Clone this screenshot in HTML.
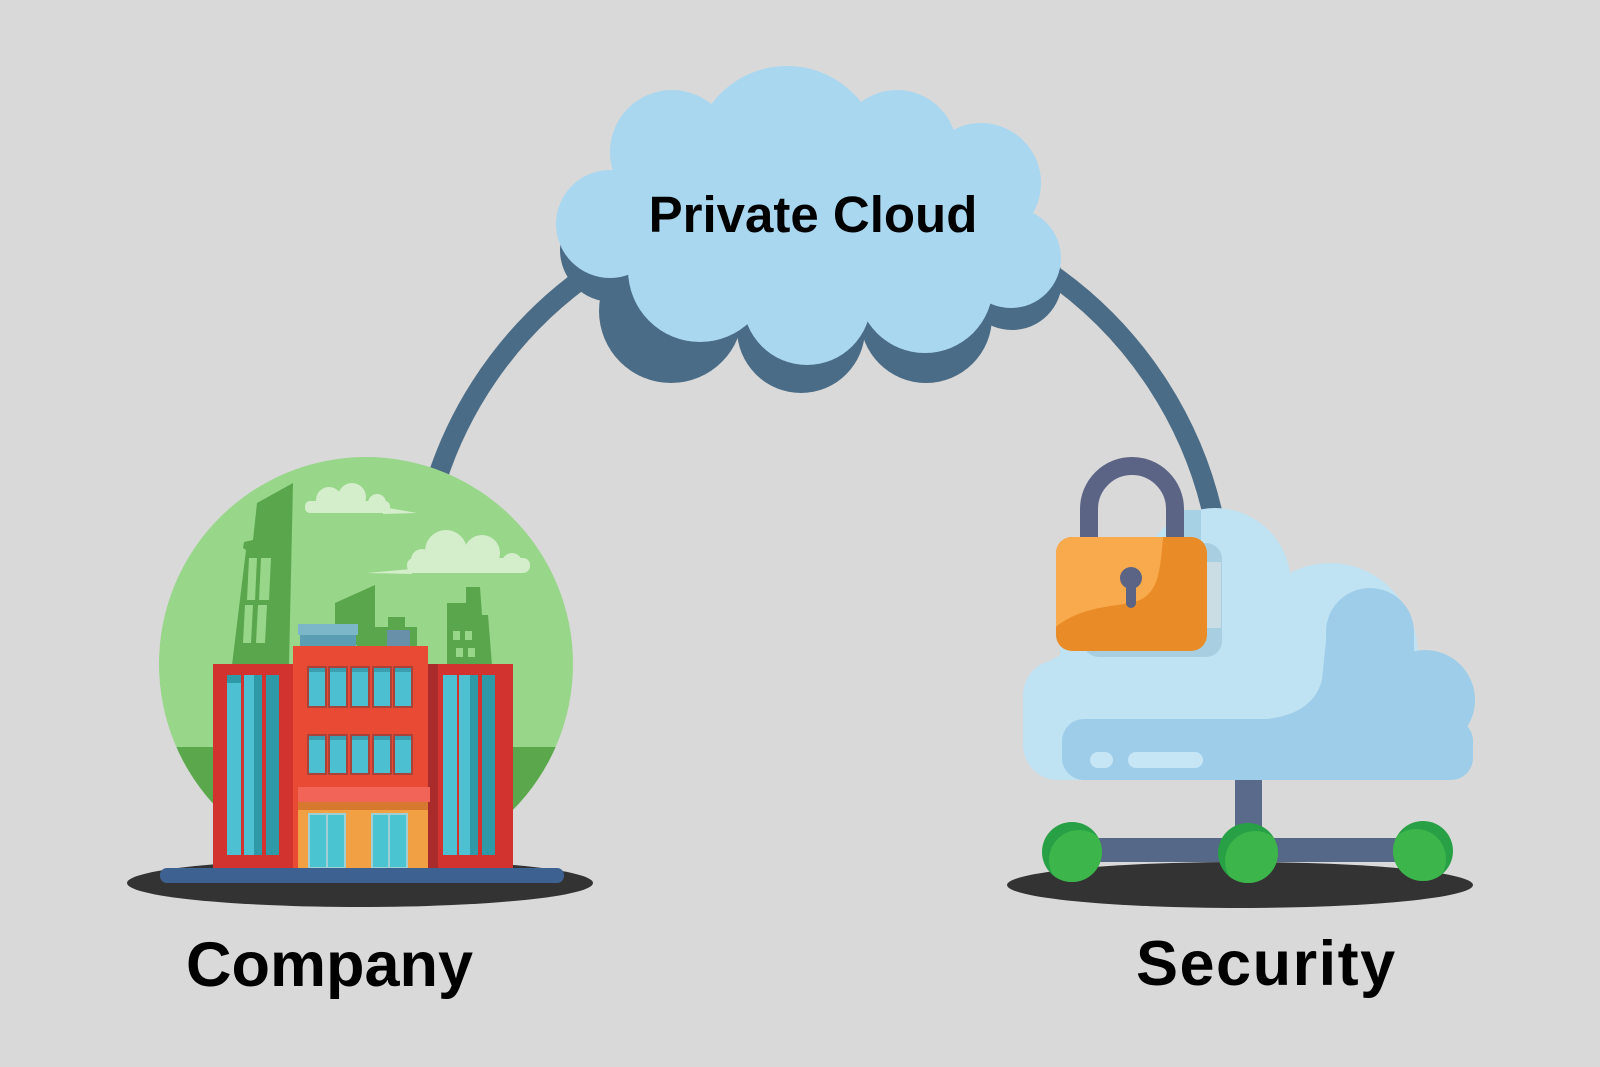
<!DOCTYPE html>
<html><head><meta charset="utf-8">
<style>
html,body{margin:0;padding:0;background:#d9d9d9;}
svg{display:block;}
text{font-family:"Liberation Sans",Arial,sans-serif;font-weight:bold;fill:#000;}
</style></head><body>
<svg width="1600" height="1067" viewBox="0 0 1600 1067" xmlns="http://www.w3.org/2000/svg">
<defs>
  <clipPath id="gc"><circle cx="366" cy="664" r="207"/></clipPath>
  <clipPath id="lockc"><rect x="1056" y="537" width="151" height="114" rx="16"/></clipPath>
  <clipPath id="nc">
    <circle cx="1072" cy="852" r="30"/>
    <circle cx="1248" cy="853" r="30"/>
    <circle cx="1423" cy="851" r="30"/>
  </clipPath>
</defs>
<rect width="1600" height="1067" fill="#d9d9d9"/>

<!-- connector arcs -->
<g fill="none" stroke="#4b6c86" stroke-width="20">
  <path d="M436.6,480 A403,403 0 0 1 594.5,270"/>
  <path d="M1045.5,270 A403,403 0 0 1 1216,530"/>
</g>

<!-- Private cloud shadow -->
<g fill="#4b6c86">
  <circle cx="612" cy="250" r="52"/>
  <circle cx="671" cy="311" r="72"/>
  <circle cx="801" cy="329" r="64"/>
  <circle cx="926" cy="317" r="66"/>
  <circle cx="1012" cy="280" r="50"/>
  <rect x="620" y="220" width="390" height="100"/>
</g>
<!-- Private cloud light -->
<g fill="#a9d7f0">
  <circle cx="787" cy="160" r="94"/>
  <circle cx="672" cy="152" r="62"/>
  <circle cx="897" cy="150" r="60"/>
  <circle cx="981" cy="183" r="60"/>
  <circle cx="1011" cy="258" r="50"/>
  <circle cx="610" cy="224" r="54"/>
  <circle cx="700" cy="270" r="72"/>
  <circle cx="807" cy="301" r="64"/>
  <circle cx="925" cy="285" r="68"/>
  <polygon points="610,224 672,152 787,160 897,150 981,183 1011,258 925,285 807,301 700,270"/>
</g>
<text x="813" y="232" font-size="51" text-anchor="middle">Private Cloud</text>

<!-- Company scene -->
<g clip-path="url(#gc)">
  <rect x="150" y="450" width="440" height="430" fill="#98d68a"/>
  <rect x="150" y="747" width="440" height="140" fill="#5aa84b"/>
  <g fill="#d4eecb">
    <circle cx="329" cy="500" r="13"/>
    <circle cx="352" cy="497" r="14"/>
    <circle cx="377" cy="503" r="9"/>
    <rect x="305" y="501" width="85" height="12" rx="5"/>
    <polygon points="383,507 417,513 383,514"/>
    <circle cx="422" cy="560" r="11"/>
    <circle cx="446" cy="551" r="21"/>
    <circle cx="482" cy="553" r="18"/>
    <circle cx="512" cy="563" r="10"/>
    <rect x="407" y="558" width="123" height="15" rx="7"/>
    <polygon points="412,569 367,573 412,574"/>
  </g>
  <g fill="#5aa64c">
    <polygon points="257,503 293,483 289,665 232,665 246,550 243,548 244,542 253,540"/>
    <polygon points="335,603 375,585 375,645 335,645"/>
    <rect x="357" y="627" width="60" height="20"/>
    <rect x="388" y="617" width="17" height="12"/>
    <polygon points="447,603 466,603 466,587 480,587 482,615 488,615 492,665 447,665"/>
  </g>
  <g fill="#98d68a">
    <polygon points="249,558 257,558 255,600 247,600"/>
    <polygon points="261,558 271,558 269,600 259,600"/>
    <polygon points="245,605 253,605 251,643 243,643"/>
    <polygon points="258,605 267,605 265,643 256,643"/>
    <rect x="453" y="631" width="7" height="9"/>
    <rect x="465" y="631" width="7" height="9"/>
    <rect x="456" y="648" width="7" height="9"/>
    <rect x="468" y="648" width="7" height="9"/>
  </g>
  <rect x="298" y="624" width="60" height="11" fill="#7bb7c9"/>
  <rect x="300" y="635" width="56" height="12" fill="#5b9db3"/>
  <rect x="387" y="630" width="23" height="17" fill="#6890a8"/>
</g>

<ellipse cx="360" cy="883" rx="233" ry="24" fill="#333333"/>

<!-- Building -->
<rect x="213" y="664" width="85" height="204" fill="#d2332e"/>
<rect x="227" y="675" width="14" height="180" fill="#4dc1d1"/>
<rect x="227" y="675" width="14" height="8" fill="#2f9aa7"/>
<rect x="244" y="675" width="18" height="180" fill="#4dc1d1"/>
<rect x="254" y="675" width="8" height="180" fill="#2f9aa7"/>
<rect x="266" y="675" width="13" height="180" fill="#2f9aa7"/>

<rect x="428" y="664" width="85" height="204" fill="#d2332e"/>
<rect x="428" y="664" width="10" height="204" fill="#a92b2b"/>
<rect x="443" y="675" width="14" height="180" fill="#4dc1d1"/>
<rect x="459" y="675" width="19" height="180" fill="#4dc1d1"/>
<rect x="470" y="675" width="8" height="180" fill="#2f9aa7"/>
<rect x="482" y="675" width="13" height="180" fill="#2f9aa7"/>

<rect x="293" y="646" width="135" height="222" fill="#e84a33"/>
<g stroke="#a9433a" stroke-width="2" fill="#4cc0d0">
  <rect x="308" y="667" width="18" height="40"/>
  <rect x="329" y="667" width="18" height="40"/>
  <rect x="351" y="667" width="18" height="40"/>
  <rect x="373" y="667" width="18" height="40"/>
  <rect x="394" y="667" width="18" height="40"/>
  <rect x="308" y="735" width="18" height="39"/>
  <rect x="329" y="735" width="18" height="39"/>
  <rect x="351" y="735" width="18" height="39"/>
  <rect x="373" y="735" width="18" height="39"/>
  <rect x="394" y="735" width="18" height="39"/>
</g>
<g fill="#3a9fb0">
  <rect x="309" y="668" width="16" height="4"/><rect x="330" y="668" width="16" height="4"/>
  <rect x="352" y="668" width="16" height="4"/><rect x="374" y="668" width="16" height="4"/>
  <rect x="395" y="668" width="16" height="4"/>
  <rect x="309" y="736" width="16" height="4"/><rect x="330" y="736" width="16" height="4"/>
  <rect x="352" y="736" width="16" height="4"/><rect x="374" y="736" width="16" height="4"/>
  <rect x="395" y="736" width="16" height="4"/>
</g>
<rect x="298" y="787" width="132" height="15" fill="#f26457"/>
<rect x="298" y="802" width="130" height="8" fill="#d7782f"/>
<rect x="298" y="810" width="130" height="58" fill="#f2a044"/>
<g fill="#4ac4d0" stroke="#9fd0d6" stroke-width="2">
  <rect x="309" y="814" width="36" height="54"/>
  <rect x="372" y="814" width="35" height="54"/>
</g>
<g stroke="#9fd0d6" stroke-width="2">
  <line x1="327" y1="814" x2="327" y2="868"/>
  <line x1="389" y1="814" x2="389" y2="868"/>
</g>
<rect x="160" y="868" width="404" height="15" rx="7" fill="#3d6191"/>

<!-- Security scene -->
<ellipse cx="1240" cy="885" rx="233" ry="23" fill="#333333"/>
<rect x="1235" y="770" width="27" height="75" fill="#5a6a8a"/>
<rect x="1070" y="838" width="353" height="24" fill="#566888"/>
<circle cx="1072" cy="852" r="30" fill="#27a046"/>
<circle cx="1248" cy="853" r="30" fill="#27a046"/>
<circle cx="1423" cy="851" r="30" fill="#27a046"/>
<g clip-path="url(#nc)" fill="#3cb54b">
  <circle cx="1079" cy="860" r="30"/>
  <circle cx="1255" cy="861" r="30"/>
  <circle cx="1416" cy="859" r="30"/>
</g>

<!-- security cloud light -->
<g fill="#bfe3f3">
  <circle cx="1085" cy="712" r="62"/>
  <circle cx="1215" cy="584" r="76"/>
  <ellipse cx="1330" cy="655" rx="88" ry="92"/>
  <rect x="1060" y="600" width="220" height="120"/>
  <rect x="1023" y="660" width="350" height="120" rx="35"/>
</g>
<!-- security cloud dark -->
<g fill="#9ecdea">
  <circle cx="1370" cy="632" r="44"/>
  <circle cx="1425" cy="700" r="50"/>
  <rect x="1326" y="632" width="88" height="95"/>
  <rect x="1380" y="690" width="50" height="40"/>
  <rect x="1062" y="719" width="411" height="61" rx="22"/>
  <path d="M1326,640 L1322,680 C1315,705 1295,718 1255,720 L1330,726 Z"/>
</g>
<g fill="#c6e6f6">
  <rect x="1090" y="752" width="23" height="16" rx="8"/>
  <rect x="1128" y="752" width="75" height="16" rx="8"/>
</g>

<!-- lock -->
<rect x="1183" y="510" width="18" height="34" fill="#a6d0e4"/>
<rect x="1083" y="543" width="139" height="114" rx="16" fill="#a8cfe1"/>
<rect x="1207" y="562" width="14" height="66" fill="#cadde4"/>
<path d="M1089,545 V509 A43,43 0 0 1 1175,509 V545" fill="none" stroke="#5b6485" stroke-width="18"/>
<rect x="1056" y="537" width="151" height="114" rx="16" fill="#e98c27"/>
<path clip-path="url(#lockc)" d="M1050,530 H1164 C1160,560 1162,590 1140,600 C1120,608 1080,603 1050,632 Z" fill="#f9aa4c"/>
<circle cx="1131" cy="578" r="11" fill="#5b6485"/>
<rect x="1126" y="578" width="10" height="30" rx="5" fill="#5b6485"/>

<!-- labels -->
<text x="186" y="986" font-size="63">Company</text>
<text x="1136" y="985" font-size="63" letter-spacing="1.5">Security</text>
</svg>
</body></html>
